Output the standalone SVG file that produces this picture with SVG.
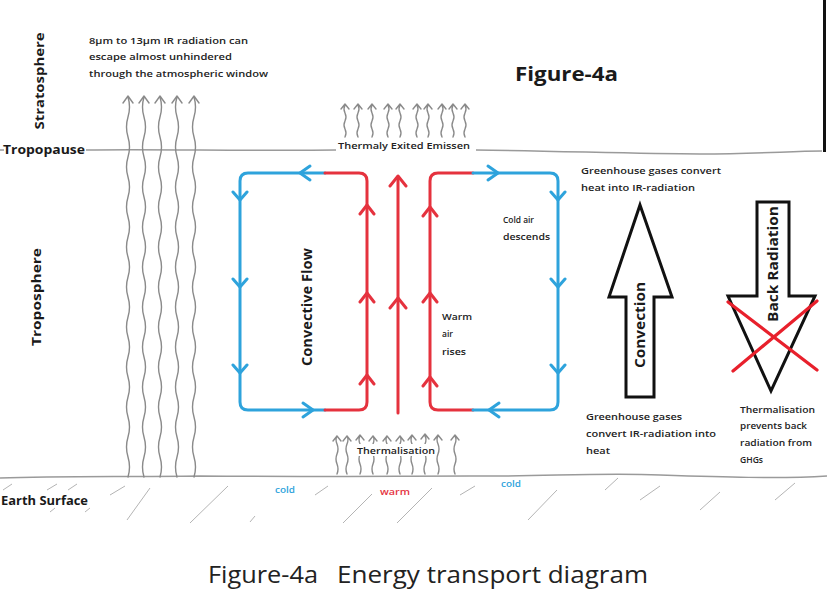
<svg xmlns="http://www.w3.org/2000/svg" width="827" height="593" viewBox="0 0 827 593">
<defs>
<style>
.bg{fill:#ffffff}
.wave{fill:none;stroke:#8a8a8a;stroke-width:1.4;stroke-linecap:round;stroke-linejoin:round}
.ground{fill:none;stroke:#9a9a9a;stroke-width:1.5}
.hatch{fill:none;stroke:#b4b4b4;stroke-width:1}
.blue{fill:none;stroke:#2ea3dc;stroke-width:3;stroke-linecap:round;stroke-linejoin:round}
.red{fill:none;stroke:#e5323e;stroke-width:3;stroke-linecap:round;stroke-linejoin:round}
.bigarrow{fill:#ffffff;stroke:#111111;stroke-width:3;stroke-linejoin:miter}
.cross{stroke:#e8202c;stroke-width:3.2;stroke-linecap:round}
.lab{font-family:"Open Sans","Liberation Sans",sans-serif;font-weight:700;fill:#1a1a1a}
.note{font-family:"Open Sans","Liberation Sans",sans-serif;font-weight:600;font-size:9.5px;fill:#222222}
.cold{font-family:"Open Sans","Liberation Sans",sans-serif;font-weight:600;font-size:9px;fill:#2ea3dc}
.warm{font-family:"Open Sans","Liberation Sans",sans-serif;font-weight:600;font-size:9px;fill:#e5323e}
.cap{font-family:"Open Sans","Liberation Sans",sans-serif;font-size:23px;fill:#222222}
</style>
</defs>
<rect class="bg" x="0" y="0" width="827" height="593"/>
<line x1="824.5" y1="0" x2="824.5" y2="152" stroke="#111111" stroke-width="3"/>

<g id="layers">
  <path class="ground" d="M0,150 H4"/>
  <path class="ground" d="M86,150 C150,149 250,151 336,150"/>
  <path class="ground" d="M476,150 C560,151 640,154 700,154 C760,154 790,151 822,151"/>
  <path class="ground" d="M0,478 C60,476 120,477 200,476 C300,477 400,476 470,476 C540,477 600,472 660,475 C720,477 780,479 827,476"/>
  <g id="hatches">
    <path class="hatch" d="M3,490 L12,484 M47,490 L57,484 M68,490 L77,484 M110,495 L125,486 M127,520 L150,488 M190,523 L228,486 M250,522 L255,516 M315,495 L328,486 M343,523 L372,494 M397,523 L432,488 M460,495 L475,486 M528,520 L557,490 M605,490 L618,478 M640,500 L660,486 M700,510 L720,492 M775,500 L795,483 M50,512 L55,508 M85,512 L90,508"/>
  </g>
  <text class="lab" x="3" y="154" font-size="12" textLength="82" lengthAdjust="spacingAndGlyphs">Tropopause</text>
  <text class="lab" x="1" y="505" font-size="13" textLength="87" lengthAdjust="spacingAndGlyphs">Earth Surface</text>
  <text class="lab" font-size="12" text-anchor="middle" transform="translate(44,81) rotate(-90)" textLength="97" lengthAdjust="spacingAndGlyphs">Stratosphere</text>
  <text class="lab" font-size="12" text-anchor="middle" transform="translate(41,297) rotate(-90)" textLength="98" lengthAdjust="spacingAndGlyphs">Troposphere</text>
</g>

<g id="title">
  <text class="lab" x="515" y="81" font-size="19" textLength="103" lengthAdjust="spacingAndGlyphs">Figure-4a</text>
</g>

<g id="window-radiation">
  <path class="wave" d="M128,477 q3,-10 0,-20 t0,-20 t0,-20 t0,-20 t0,-20 t0,-20 t0,-20 t0,-20 t0,-20 t0,-20 t0,-20 t0,-20 t0,-20 t0,-20 t0,-20 t0,-20 t0,-20 t0,-20 t0,-20 M123,103 L128,96 L133,103"/>
  <path class="wave" d="M144,477 q-3,-10 0,-20 t0,-20 t0,-20 t0,-20 t0,-20 t0,-20 t0,-20 t0,-20 t0,-20 t0,-20 t0,-20 t0,-20 t0,-20 t0,-20 t0,-20 t0,-20 t0,-20 t0,-20 t0,-20 M139,103 L144,96 L149,103"/>
  <path class="wave" d="M160,477 q3,-10 0,-20 t0,-20 t0,-20 t0,-20 t0,-20 t0,-20 t0,-20 t0,-20 t0,-20 t0,-20 t0,-20 t0,-20 t0,-20 t0,-20 t0,-20 t0,-20 t0,-20 t0,-20 t0,-20 M155,103 L160,96 L165,103"/>
  <path class="wave" d="M177,477 q-3,-10 0,-20 t0,-20 t0,-20 t0,-20 t0,-20 t0,-20 t0,-20 t0,-20 t0,-20 t0,-20 t0,-20 t0,-20 t0,-20 t0,-20 t0,-20 t0,-20 t0,-20 t0,-20 t0,-20 M172,103 L177,96 L182,103"/>
  <path class="wave" d="M194,477 q3,-10 0,-20 t0,-20 t0,-20 t0,-20 t0,-20 t0,-20 t0,-20 t0,-20 t0,-20 t0,-20 t0,-20 t0,-20 t0,-20 t0,-20 t0,-20 t0,-20 t0,-20 t0,-20 t0,-20 M189,103 L194,96 L199,103"/>
  <text class="note" x="89" y="44" textLength="159" lengthAdjust="spacingAndGlyphs">8µm to 13µm IR radiation can</text>
  <text class="note" x="89" y="60" textLength="143" lengthAdjust="spacingAndGlyphs">escape almost unhindered</text>
  <text class="note" x="89" y="77" textLength="179" lengthAdjust="spacingAndGlyphs">through the atmospheric window</text>
</g>

<g id="thermal-emission">
  <path class="wave" d="M345,137 q2,-4 0,-8 t0,-8 t0,-8 t0,-8 M341,109 L345,104 L349,109"/>
  <path class="wave" d="M358,137 q-2,-4 0,-8 t0,-8 t0,-8 t0,-8 M354,109 L358,104 L362,109"/>
  <path class="wave" d="M372,137 q2,-4 0,-8 t0,-8 t0,-8 t0,-8 M368,109 L372,104 L376,109"/>
  <path class="wave" d="M388,137 q-2,-4 0,-8 t0,-8 t0,-8 t0,-8 M384,109 L388,104 L392,109"/>
  <path class="wave" d="M400,137 q2,-4 0,-8 t0,-8 t0,-8 t0,-8 M396,109 L400,104 L404,109"/>
  <path class="wave" d="M417,137 q-2,-4 0,-8 t0,-8 t0,-8 t0,-8 M413,109 L417,104 L421,109"/>
  <path class="wave" d="M428,137 q2,-4 0,-8 t0,-8 t0,-8 t0,-8 M424,109 L428,104 L432,109"/>
  <path class="wave" d="M442,137 q-2,-4 0,-8 t0,-8 t0,-8 t0,-8 M438,109 L442,104 L446,109"/>
  <path class="wave" d="M453,137 q2,-4 0,-8 t0,-8 t0,-8 t0,-8 M449,109 L453,104 L457,109"/>
  <path class="wave" d="M465,137 q-2,-4 0,-8 t0,-8 t0,-8 t0,-8 M461,109 L465,104 L469,109"/>
  <text class="note" x="338" y="149" font-weight="700" textLength="132" lengthAdjust="spacingAndGlyphs">Thermaly Exited Emissen</text>
</g>

<g id="thermalisation">
  <path class="wave" d="M337,474 q2,-5 0,-10 t0,-10 t0,-10 t0,-8 M333,441 L337,436 L341,441"/>
  <path class="wave" d="M347,474 q-2,-5 0,-10 t0,-10 t0,-10 t0,-8 M343,441 L347,436 L351,441"/>
  <path class="wave" d="M360,474 q2,-5 0,-10 t0,-10 t0,-10 t0,-8 M356,440 L360,435 L364,440"/>
  <path class="wave" d="M373,474 q-2,-5 0,-10 t0,-10 t0,-10 t0,-8 M369,441 L373,436 L377,441"/>
  <path class="wave" d="M387,474 q2,-5 0,-10 t0,-10 t0,-10 t0,-8 M383,441 L387,436 L391,441"/>
  <path class="wave" d="M400,474 q-2,-5 0,-10 t0,-10 t0,-10 t0,-8 M396,441 L400,436 L404,441"/>
  <path class="wave" d="M412,474 q2,-5 0,-10 t0,-10 t0,-10 t0,-8 M408,440 L412,435 L416,440"/>
  <path class="wave" d="M425,474 q-2,-5 0,-10 t0,-10 t0,-10 t0,-8 M421,439 L425,434 L429,439"/>
  <path class="wave" d="M438,474 q2,-5 0,-10 t0,-10 t0,-10 t0,-8 M434,440 L438,435 L442,440"/>
  <path class="wave" d="M455,474 q-2,-5 0,-10 t0,-10 t0,-10 t0,-8 M451,440 L455,435 L459,440"/>
  <rect x="356" y="444" width="80" height="12" fill="#ffffff"/>
  <text class="note" x="357" y="454" font-weight="700" textLength="78" lengthAdjust="spacingAndGlyphs">Thermalisation</text>
  <text class="cold" x="275" y="493" textLength="20" lengthAdjust="spacingAndGlyphs">cold</text>
  <text class="warm" x="380" y="495" textLength="30" lengthAdjust="spacingAndGlyphs">warm</text>
  <text class="cold" x="501" y="487" textLength="20" lengthAdjust="spacingAndGlyphs">cold</text>
</g>

<g id="connectors">
  <g id="left-loop">
    <path class="blue" d="M325,173 H248 Q240,173 240,181 V402 Q240,410 248,410 H325"/>
    <path class="red" d="M325,173 H359 Q367,173 367,181 V402 Q367,410 359,410 H325"/>
    <path class="blue" d="M310,166 L300,173 L310,180"/>
    <path class="blue" d="M233,192 L240,200 L247,192 M233,279 L240,287 L247,279 M233,365 L240,373 L247,365"/>
    <path class="blue" d="M303,403 L313,410 L303,417"/>
    <path class="red" d="M360,214 L367,205 L374,214 M360,302 L367,293 L374,302 M360,384 L367,375 L374,384"/>
  </g>
  <g id="center-rise">
    <path class="red" d="M398,413 V177"/>
    <path class="red" d="M390,186 L398,176 L406,186 M390,308 L398,298 L406,308"/>
  </g>
  <g id="right-loop">
    <path class="red" d="M473,173 H438 Q430,173 430,181 V402 Q430,410 438,410 H473"/>
    <path class="blue" d="M473,173 H550 Q558,173 558,181 V402 Q558,410 550,410 H473"/>
    <path class="blue" d="M488,166 L498,173 L488,180"/>
    <path class="blue" d="M551,192 L558,200 L565,192 M551,279 L558,287 L565,279 M551,365 L558,373 L565,365"/>
    <path class="blue" d="M499,403 L489,410 L499,417"/>
    <path class="red" d="M423,216 L430,207 L437,216 M423,302 L430,293 L437,302 M423,386 L430,377 L437,386"/>
  </g>
</g>

<g id="convective-flow">
  <text class="lab" font-size="14" text-anchor="middle" transform="translate(312,307) rotate(-90)" textLength="118" lengthAdjust="spacingAndGlyphs">Convective Flow</text>
</g>
<g id="cold-air">
  <text class="note" x="503" y="223" textLength="31" lengthAdjust="spacingAndGlyphs">Cold air</text>
  <text class="note" x="503" y="240" textLength="47" lengthAdjust="spacingAndGlyphs">descends</text>
</g>
<g id="warm-air">
  <text class="note" x="442" y="320" textLength="30" lengthAdjust="spacingAndGlyphs">Warm</text>
  <text class="note" x="442" y="337" textLength="11" lengthAdjust="spacingAndGlyphs">air</text>
  <text class="note" x="442" y="355" textLength="24" lengthAdjust="spacingAndGlyphs">rises</text>
</g>

<g id="convection">
  <polygon class="bigarrow" points="640,205 672,297 654,297 654,397 626,397 626,297 609,297"/>
  <text class="lab" font-size="14" text-anchor="middle" transform="translate(645,325) rotate(-90)" textLength="86" lengthAdjust="spacingAndGlyphs">Convection</text>
  <text class="note" x="581" y="174" textLength="140" lengthAdjust="spacingAndGlyphs">Greenhouse gases convert</text>
  <text class="note" x="581" y="191" textLength="114" lengthAdjust="spacingAndGlyphs">heat into IR-radiation</text>
  <text class="note" x="586" y="420" textLength="96" lengthAdjust="spacingAndGlyphs">Greenhouse gases</text>
  <text class="note" x="586" y="437" textLength="130" lengthAdjust="spacingAndGlyphs">convert IR-radiation into</text>
  <text class="note" x="586" y="454" textLength="24" lengthAdjust="spacingAndGlyphs">heat</text>
</g>

<g id="back-radiation">
  <polygon class="bigarrow" points="757,202 789,202 789,296 815,296 771,391 728,296 757,296"/>
  <text class="lab" font-size="14" text-anchor="middle" transform="translate(778,264) rotate(-90)" textLength="116" lengthAdjust="spacingAndGlyphs">Back Radiation</text>
  <line class="cross" x1="728" y1="302" x2="817" y2="370"/>
  <line class="cross" x1="817" y1="301" x2="733" y2="371"/>
  <text class="note" x="740" y="413" textLength="75" lengthAdjust="spacingAndGlyphs">Thermalisation</text>
  <text class="note" x="740" y="429" textLength="67" lengthAdjust="spacingAndGlyphs">prevents back</text>
  <text class="note" x="740" y="446" textLength="72" lengthAdjust="spacingAndGlyphs">radiation from</text>
  <text class="note" x="740" y="463" textLength="23" lengthAdjust="spacingAndGlyphs">GHGs</text>
</g>

<g id="caption">
  <text class="cap" x="208" y="583" textLength="110" lengthAdjust="spacingAndGlyphs">Figure-4a</text>
  <text class="cap" x="337" y="583" textLength="311" lengthAdjust="spacingAndGlyphs">Energy transport diagram</text>
</g>
</svg>
